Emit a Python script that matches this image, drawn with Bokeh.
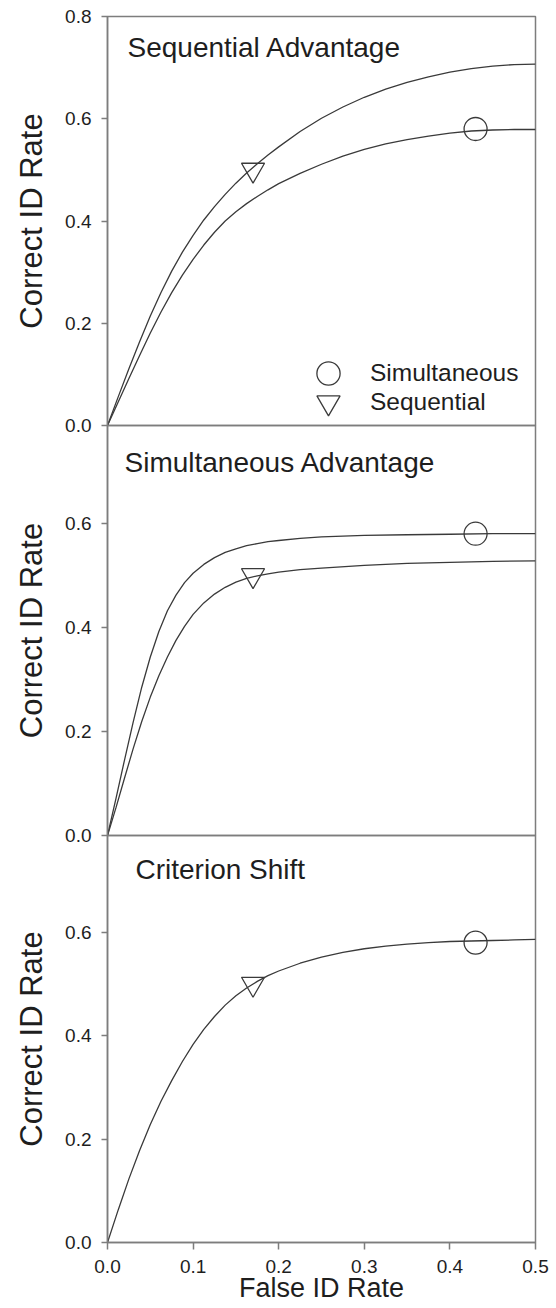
from bokeh.plotting import figure
from bokeh.layouts import column
from bokeh.models import (Range1d, FixedTicker, PrintfTickFormatter, Label,
                          Legend, LegendItem)
from bokeh.embed import file_html
from bokeh.resources import INLINE

# ---------------- data ----------------
false_id_grid = [0, 0.0125, 0.025, 0.0375, 0.05, 0.0625, 0.075, 0.0875, 0.1,
                 0.1125, 0.125, 0.1375, 0.15, 0.1625, 0.175, 0.1875, 0.2,
                 0.225, 0.25, 0.275, 0.3, 0.325, 0.35, 0.375, 0.4, 0.425,
                 0.45, 0.475, 0.5]

# Panel 1: Sequential Advantage
p1_seq_curve = [0, 0.056, 0.111, 0.164, 0.214, 0.260, 0.302, 0.339, 0.372,
                0.402, 0.428, 0.452, 0.474, 0.494, 0.512, 0.529, 0.545,
                0.575, 0.601, 0.623, 0.642, 0.658, 0.671, 0.682, 0.691, 0.698,
                0.703, 0.706, 0.707]
p1_sim_curve = [0, 0.046, 0.092, 0.137, 0.181, 0.222, 0.260, 0.294, 0.325,
                0.353, 0.378, 0.400, 0.418, 0.434, 0.448, 0.461, 0.473,
                0.493, 0.511, 0.527, 0.540, 0.551, 0.559, 0.566, 0.572, 0.576,
                0.578, 0.579, 0.579]

# Panel 2: Simultaneous Advantage
false_id_grid2 = [0, 0.01, 0.02, 0.03, 0.04, 0.05, 0.06, 0.07, 0.08, 0.09, 0.1,
                  0.1125, 0.125, 0.1375, 0.15, 0.1625, 0.175, 0.1875, 0.2,
                  0.225, 0.25, 0.3, 0.35, 0.4, 0.45, 0.5]
p2_sim_curve = [0, 0.072, 0.146, 0.218, 0.285, 0.343, 0.392, 0.432, 0.462, 0.486,
                0.504, 0.521, 0.534, 0.544, 0.551, 0.557, 0.561, 0.565, 0.567,
                0.571, 0.574, 0.577, 0.578, 0.579, 0.580, 0.580]
p2_seq_curve = [0, 0.054, 0.111, 0.167, 0.219, 0.266, 0.307, 0.343, 0.375, 0.402,
                0.425, 0.447, 0.464, 0.477, 0.487, 0.494, 0.499, 0.503, 0.506,
                0.511, 0.514, 0.519, 0.523, 0.525, 0.527, 0.528]

# Panel 3: Criterion Shift (one curve)
p3_curve = [0, 0.063, 0.123, 0.178, 0.228, 0.273, 0.313, 0.350, 0.383,
            0.412, 0.437, 0.459, 0.477, 0.492, 0.505, 0.516, 0.525,
            0.540, 0.552, 0.561, 0.568, 0.573, 0.577, 0.580, 0.582, 0.583,
            0.584, 0.585, 0.586]

# Observed points (False ID rate, Correct ID rate)
simultaneous_point = (0.43, 0.58)
sequential_point = (0.17, 0.50)

x_ticks = [0.0, 0.1, 0.2, 0.3, 0.4, 0.5]
y_ticks_top = [0.0, 0.2, 0.4, 0.6, 0.8]
y_ticks = [0.0, 0.2, 0.4, 0.6]

panel_titles = ["Sequential Advantage", "Simultaneous Advantage", "Criterion Shift"]
series_names = ["Simultaneous", "Sequential"]

# ---------------- styling ----------------
FONT = "Liberation Sans"
TEXT = "#1e1e1e"
AXIS = "#7d7d7d"
LINE = "#3a3a3a"
W = 556
LEFT = 107
FRAME_W = 428
RIGHT = W - LEFT - FRAME_W


def make_panel(ymax, frame_h, top, bottom, yticks, show_x, shift):
    p = figure(width=W, height=frame_h + top + bottom,
               x_range=Range1d(0, 0.5), y_range=Range1d(0, ymax),
               output_backend="svg", toolbar_location=None, title=None,
               x_axis_location="below" if show_x else None,
               min_border_left=LEFT, min_border_right=RIGHT,
               min_border_top=top, min_border_bottom=bottom)
    if shift:
        p.styles = {"margin-top": f"-{shift}px"}
    p.grid.grid_line_color = None
    p.outline_line_color = AXIS
    p.outline_line_width = 1.5
    p.outline_line_alpha = 1
    p.background_fill_alpha = 0
    p.border_fill_alpha = 0
    ax = p.yaxis[0]
    ax.ticker = FixedTicker(ticks=yticks)
    ax.formatter = PrintfTickFormatter(format="%.1f")
    ax.axis_label = "Correct ID Rate"
    ax.axis_label_text_font = FONT
    ax.axis_label_text_font_style = "normal"
    ax.axis_label_text_font_size = "31px"
    ax.axis_label_text_color = TEXT
    ax.axis_label_standoff = 13
    ax.major_label_text_font = FONT
    ax.major_label_text_font_size = "19px"
    ax.major_label_text_color = TEXT
    ax.major_label_standoff = 10
    ax.major_tick_out = 6
    ax.major_tick_in = 0
    ax.minor_tick_out = 0
    ax.minor_tick_in = 0
    ax.axis_line_color = AXIS
    ax.axis_line_width = 1.5
    ax.major_tick_line_color = AXIS
    ax.major_tick_line_width = 1.5
    if show_x:
        xa = p.xaxis[0]
        xa.ticker = FixedTicker(ticks=x_ticks)
        xa.formatter = PrintfTickFormatter(format="%.1f")
        xa.axis_label = "False ID Rate"
        xa.axis_label_text_font = FONT
        xa.axis_label_text_font_style = "normal"
        xa.axis_label_text_font_size = "27px"
        xa.axis_label_text_color = TEXT
        xa.axis_label_standoff = -3
        xa.major_label_text_font = FONT
        xa.major_label_text_font_size = "19px"
        xa.major_label_text_color = TEXT
        xa.major_label_standoff = 10
        xa.major_tick_out = 7
        xa.major_tick_in = 0
        xa.minor_tick_out = 0
        xa.minor_tick_in = 0
        xa.axis_line_color = AXIS
        xa.axis_line_width = 1.5
        xa.major_tick_line_color = AXIS
        xa.major_tick_line_width = 1.5
    return p


def add_points(p):
    rc = p.scatter([simultaneous_point[0]], [simultaneous_point[1]], marker="circle",
                   size=23, fill_color=None, line_color=LINE, line_width=1.3)
    rt = p.scatter([sequential_point[0]], [sequential_point[1]], marker="inverted_triangle",
                   size=23, fill_color=None, line_color=LINE, line_width=1.3)
    return rc, rt


def add_title(p, text, x, y):
    p.add_layout(Label(x=x, y=y, x_units="screen", y_units="screen", text=text,
                       text_font=FONT, text_font_size="28px", text_color=TEXT,
                       text_baseline="alphabetic", text_align="left"))


def legend_entry(label, renderer, loc):
    return Legend(items=[LegendItem(label=label, renderers=[renderer])],
                  location=loc, orientation="vertical",
                  glyph_width=58, glyph_height=58, spacing=0, padding=0, margin=0,
                  label_standoff=13, label_text_font=FONT, label_text_font_size="24.5px",
                  label_text_color=TEXT, border_line_alpha=0, background_fill_alpha=0)


# Panel 1
p1 = make_panel(0.8, 409, 16, 12, y_ticks_top, False, 0)
p1.line(false_id_grid, p1_seq_curve, line_color=LINE, line_width=1.3)
p1.line(false_id_grid, p1_sim_curve, line_color=LINE, line_width=1.3)
rc1, rt1 = add_points(p1)
add_title(p1, panel_titles[0], 20, 378)
p1.add_layout(legend_entry(series_names[0], rc1, (192, 23)))
p1.add_layout(legend_entry(series_names[1], rt1, (192, -6)))

# Panel 2
p2 = make_panel(0.788, 410, 12, 12, y_ticks, False, 24)
p2.line(false_id_grid2, p2_sim_curve, line_color=LINE, line_width=1.3)
p2.line(false_id_grid2, p2_seq_curve, line_color=LINE, line_width=1.3)
add_points(p2)
add_title(p2, panel_titles[1], 17, 373)

# Panel 3
p3 = make_panel(0.787, 407, 12, 66, y_ticks, True, 24)
p3.line(false_id_grid, p3_curve, line_color=LINE, line_width=1.3)
add_points(p3)
add_title(p3, panel_titles[2], 28, 373)

layout = column(p1, p2, p3, spacing=0)
open("out.html", "w").write(file_html(layout, INLINE))
